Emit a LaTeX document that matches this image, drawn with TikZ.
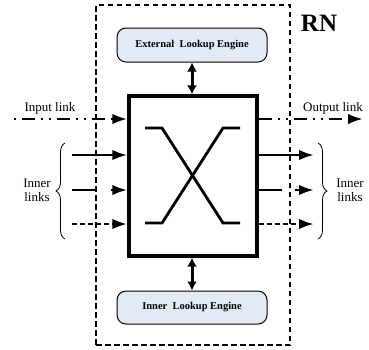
\documentclass[tikz,border=0pt]{standalone}
\usepackage{fontspec}
\setmainfont{Liberation Serif}
\usetikzlibrary{arrows.meta,decorations.pathreplacing}
\definecolor{engfill}{HTML}{E4EAF4}
\begin{document}
\begin{tikzpicture}[x=1pt,y=-1pt,
  engine/.style={draw=black,line width=1pt,rounded corners=9pt,fill=engfill,
    minimum width=150pt,minimum height=34pt,font=\fontsize{10.5}{12}\selectfont\bfseries},
  switchbox/.style={draw=black,line width=3.4pt,minimum width=128pt,minimum height=160pt,inner sep=0pt},
  link/.style={line width=2.7pt,-{Latex[length=15pt,width=10.5pt]}},
  dbl/.style={line width=3pt,{Latex[length=9pt,width=10pt]}-{Latex[length=9pt,width=10pt]}},
  lbl/.style={font=\fontsize{13}{14}\selectfont,align=center,inner sep=0pt},
  brc/.style={decorate,decoration={brace,amplitude=9pt},line width=0.8pt}
]
\useasboundingbox (0,0) rectangle (369,349);
% router boundary
\node[draw=black,dash pattern=on 5.5pt off 3.5pt,line width=1.5pt,minimum width=194pt,minimum height=340pt,inner sep=0pt] (rn) at (193,175) {};
\node[font=\fontsize{25}{26}\selectfont\bfseries,inner sep=0pt] (rnl) at (319,23) {RN};
% engines and switch
\node[engine] (ext) at (192,45) {External\ \ Lookup Engine};
\node[switchbox] (sw) at (193,176) {};
\node[engine,minimum height=33pt] (inn) at (192,307.5) {Inner\ \ Lookup Engine};
\draw[dbl] (ext.south) -- (ext.south |- sw.north);
\draw[dbl] (sw.south -| inn.north) -- (inn.north);
% crossbar
\draw[line width=2.8pt] (145,128) -- (162,128) -- (223,223) -- (240,223);
\draw[line width=2.8pt] (145,223) -- (162,223) -- (223,128) -- (240,128);
% input / output links
\node[lbl] (inl) at (50,108) {Input link};
\node[lbl] (outl) at (333,108) {Output link};
\coordinate (ia) at (14,119);
\coordinate (ob) at (363,119);
\draw[link,dash pattern=on 2pt off 6pt on 13pt off 6pt on 2pt off 6pt] (ia) -- (ia -| sw.west);
\draw[link,dash pattern=on 13pt off 6pt on 2pt off 6pt on 2pt off 6pt] (sw.east |- ob) -- (ob);
% inner links left
\coordinate (l1) at (72,155);
\coordinate (l2) at (72,190);
\coordinate (l3) at (72,224);
\draw[link] (l1) -- (l1 -| sw.west);
\draw[link,dash pattern=on 25pt off 14pt] (l2) -- (l2 -| sw.west);
\draw[link,dash pattern=on 5pt off 3pt] (l3) -- (l3 -| sw.west);
% inner links right
\coordinate (r1) at (314,155);
\coordinate (r2) at (314,190);
\coordinate (r3) at (314,224);
\draw[link] (sw.east |- r1) -- (r1);
\draw[link,dash pattern=on 23pt off 13pt] (sw.east |- r2) -- (r2);
\draw[link,dash pattern=on 5pt off 3pt] (sw.east |- r3) -- (r3);
% braces
\coordinate (lb1) at (65,239);
\coordinate (lb2) at (65,143);
\coordinate (rb1) at (318,143);
\coordinate (rb2) at (318,239);
\draw[brc] (lb1) -- (lb2);
\draw[brc] (rb1) -- (rb2);
\node[lbl] (innl) at (37,190) {Inner\\links};
\node[lbl] (innr) at (350,190) {Inner\\links};
\end{tikzpicture}
\end{document}
